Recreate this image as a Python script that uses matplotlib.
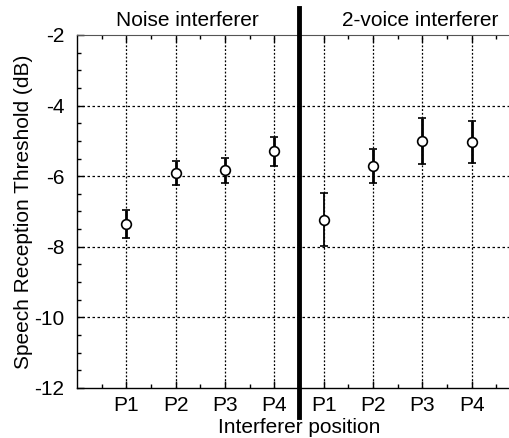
import matplotlib
matplotlib.use("Agg")
import matplotlib.pyplot as plt
from matplotlib.ticker import MultipleLocator, FixedLocator
from matplotlib.lines import Line2D

plt.rcParams['font.family'] = ['Liberation Sans', 'DejaVu Sans']

positions = ["P1", "P2", "P3", "P4"]
noise_mean = [-7.35, -5.90, -5.83, -5.30]
noise_err = [0.40, 0.34, 0.35, 0.41]
voice_mean = [-7.23, -5.72, -5.00, -5.03]
voice_err = [0.75, 0.48, 0.65, 0.60]
panel_titles = ["Noise interferer", "2-voice interferer"]
y_ticks = [-12, -10, -8, -6, -4, -2]

fig = plt.figure(figsize=(5.09, 4.38), dpi=100)
ax = fig.add_axes([77/509, 50/438, 444/509, 353/438])

x_noise = [1, 2, 3, 4]
x_voice = [5, 6, 7, 8]

ax.set_xlim(0, 9)
ax.set_ylim(-12, -2)

# grid
for xv in x_noise + x_voice:
    ax.axvline(xv, color='black', lw=0.9, ls=(0, (1.5, 1.5)), zorder=1)
for yv in [-10, -8, -6, -4]:
    ax.axhline(yv, color='black', lw=0.9, ls=(0, (2, 2)), zorder=1)

kw = dict(fmt='o', mfc='white', mec='black', ms=7, mew=1.2, ecolor='black',
          capsize=3, capthick=2, zorder=3)
ax.errorbar(x_noise, noise_mean, yerr=noise_err, elinewidth=2, **kw)
ax.errorbar(x_voice[:1], voice_mean[:1], yerr=voice_err[:1], elinewidth=1.3, **kw)
ax.errorbar(x_voice[1:], voice_mean[1:], yerr=voice_err[1:], elinewidth=2, **kw)

ax.set_xticks(x_noise + x_voice)
ax.set_xticklabels(positions + positions)
ax.xaxis.set_minor_locator(FixedLocator([0.5, 1.5, 2.5, 3.5, 5.5, 6.5, 7.5, 8.5]))
ax.set_yticks(y_ticks)
ax.set_yticklabels([str(v) for v in y_ticks])
ax.yaxis.set_minor_locator(MultipleLocator(0.5))

ax.tick_params(axis='both', which='both', direction='in', labelsize=15, top=True, right=False)
ax.tick_params(axis='both', which='major', length=5, width=1)
ax.tick_params(axis='both', which='minor', length=3, width=1)
ax.tick_params(axis='x', pad=6)
ax.tick_params(axis='y', pad=9)

for s in ['top', 'right']:
    ax.spines[s].set_color('#555555')
    ax.spines[s].set_linewidth(0.8)
for s in ['left', 'bottom']:
    ax.spines[s].set_linewidth(1.0)

ax.set_ylabel("Speech Reception Threshold (dB)", fontsize=15, labelpad=1)
ax.set_xlabel("Interferer position", fontsize=15, labelpad=2)

# divider
fig.add_artist(Line2D([299/509, 299/509], [1 - 8/438, 1 - 417/438], color='black', lw=3.5))

fig.text(187/509, 1 - 20/438, panel_titles[0], ha='center', va='center', fontsize=15)
fig.text(420/509, 1 - 20/438, panel_titles[1], ha='center', va='center', fontsize=15)

fig.savefig("out.png", dpi=100)
